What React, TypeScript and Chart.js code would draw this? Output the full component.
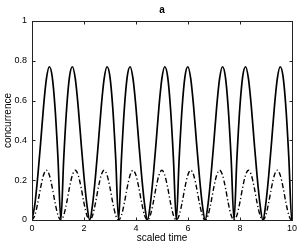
import React, { useEffect, useRef } from "react";
import { Chart, registerables } from "chart.js";

Chart.register(...registerables);

const FONT = "'Liberation Sans', Arial, Helvetica, sans-serif";

const chartTitle = "a";
const xTitle = "scaled time";
const yTitle = "concurrence";
const xTicks = [0, 2, 4, 6, 8, 10];
const yTicks = [0, 0.2, 0.4, 0.6, 0.8, 1];

// sample times (scaled time)
const times = [
  0, 0.111, 0.222, 0.333, 0.444, 0.555, 0.666, 0.777, 0.888, 0.999,
  1.11, 1.221, 1.332, 1.443, 1.554, 1.665, 1.776, 1.887, 1.998, 2.109,
  2.22, 2.331, 2.442, 2.553, 2.664, 2.775, 2.886, 2.997, 3.108, 3.219,
  3.33, 3.441, 3.552, 3.663, 3.774, 3.885, 3.996, 4.107, 4.218, 4.329,
  4.44, 4.551, 4.662, 4.773, 4.884, 4.995, 5.106, 5.217, 5.328, 5.439,
  5.55, 5.661, 5.772, 5.883, 5.994, 6.105, 6.216, 6.327, 6.438, 6.549,
  6.66, 6.771, 6.882, 6.993, 7.104, 7.215, 7.326, 7.437, 7.548, 7.659,
  7.77, 7.881, 7.992, 8.103, 8.214, 8.325, 8.436, 8.547, 8.658, 8.769,
  8.88, 8.991, 9.102, 9.213, 9.324, 9.435, 9.546, 9.657, 9.768, 9.879,
  9.99, 10,
];

// solid curve
const solidValues = [
  0, 0.08, 0.22, 0.39, 0.57, 0.71, 0.77, 0.72, 0.56, 0.31,
  0, 0.31, 0.56, 0.72, 0.77, 0.71, 0.57, 0.39, 0.22, 0.08,
  0, 0.08, 0.22, 0.39, 0.57, 0.71, 0.77, 0.72, 0.56, 0.31,
  0, 0.31, 0.56, 0.72, 0.77, 0.71, 0.57, 0.39, 0.22, 0.08,
  0, 0.08, 0.22, 0.39, 0.57, 0.71, 0.77, 0.72, 0.56, 0.31,
  0, 0.31, 0.56, 0.72, 0.77, 0.71, 0.57, 0.39, 0.22, 0.08,
  0, 0.08, 0.22, 0.39, 0.57, 0.71, 0.77, 0.72, 0.56, 0.31,
  0, 0.31, 0.56, 0.72, 0.77, 0.71, 0.57, 0.39, 0.22, 0.08,
  0, 0.08, 0.22, 0.39, 0.57, 0.71, 0.77, 0.72, 0.56, 0.31,
  0, 0.02,
];

// dash-dot curve
const dashValues = [
  0, 0.024, 0.086, 0.164, 0.226, 0.25, 0.226, 0.164, 0.086, 0.024,
  0, 0.024, 0.086, 0.164, 0.226, 0.25, 0.226, 0.164, 0.086, 0.024,
  0, 0.024, 0.086, 0.164, 0.226, 0.25, 0.226, 0.164, 0.086, 0.024,
  0, 0.024, 0.086, 0.164, 0.226, 0.25, 0.226, 0.164, 0.086, 0.024,
  0, 0.024, 0.086, 0.164, 0.226, 0.25, 0.226, 0.164, 0.086, 0.024,
  0, 0.024, 0.086, 0.164, 0.226, 0.25, 0.226, 0.164, 0.086, 0.024,
  0, 0.024, 0.086, 0.164, 0.226, 0.25, 0.226, 0.164, 0.086, 0.024,
  0, 0.024, 0.086, 0.164, 0.226, 0.25, 0.226, 0.164, 0.086, 0.024,
  0, 0.024, 0.086, 0.164, 0.226, 0.25, 0.226, 0.164, 0.086, 0.024,
  0, 0.002,
];

const boxPlugin = {
  id: "matlabBox",
  afterDatasetsDraw(chart: any) {
    const { ctx, chartArea, scales } = chart;
    const l = Math.round(chartArea.left) + 0.5;
    const r = Math.round(chartArea.right) + 0.5;
    const t = Math.round(chartArea.top) + 0.5;
    const b = Math.round(chartArea.bottom) + 0.5;
    ctx.save();
    ctx.strokeStyle = "#222";
    ctx.lineWidth = 1;
    ctx.strokeRect(l, t, r - l, b - t);
    const tl = 3;
    ctx.beginPath();
    xTicks.forEach((v) => {
      const x = Math.round(scales.x.getPixelForValue(v)) + 0.5;
      ctx.moveTo(x, b);
      ctx.lineTo(x, b - tl);
      ctx.moveTo(x, t);
      ctx.lineTo(x, t + tl);
    });
    yTicks.forEach((v) => {
      const y = Math.round(scales.y.getPixelForValue(v)) + 0.5;
      ctx.moveTo(l, y);
      ctx.lineTo(l + tl, y);
      ctx.moveTo(r, y);
      ctx.lineTo(r - tl, y);
    });
    ctx.stroke();
    // title
    ctx.fillStyle = "#000";
    ctx.font = `bold 10px ${FONT}`;
    ctx.textAlign = "center";
    ctx.textBaseline = "alphabetic";
    ctx.fillText(chartTitle, (chartArea.left + chartArea.right) / 2, 12.7);
    ctx.restore();
  },
};

export default function App() {
  const ref = useRef<HTMLCanvasElement | null>(null);
  useEffect(() => {
    if (!ref.current) return;
    Chart.defaults.font.family = FONT;
    const chart = new Chart(ref.current, {
      type: "line",
      data: {
        datasets: [
          {
            data: times.map((t, i) => ({ x: t, y: solidValues[i] })),
            borderColor: "#000",
            borderWidth: 1.7,
            pointRadius: 0,
            cubicInterpolationMode: "monotone",
            fill: false,
          },
          {
            data: times.map((t, i) => ({ x: t, y: dashValues[i] })),
            borderColor: "#000",
            borderWidth: 1.4,
            borderDash: [5, 2.5, 1.2, 2.5],
            pointRadius: 0,
            cubicInterpolationMode: "monotone",
            fill: false,
          },
        ],
      },
      options: {
        responsive: false,
        animation: false,
        layout: { padding: { top: 21, right: 8, left: 0, bottom: 0 } },
        plugins: { legend: { display: false }, tooltip: { enabled: false }, title: { display: false } },
        scales: {
          x: {
            type: "linear",
            min: 0,
            max: 10,
            afterBuildTicks: (s: any) => {
              s.ticks = xTicks.map((v) => ({ value: v }));
            },
            afterFit: (s: any) => {
              s.height = 25;
            },
            grid: { display: false, drawTicks: false },
            border: { display: false },
            ticks: {
              color: "#000",
              font: { size: 9 },
              padding: 3,
              maxRotation: 0,
              autoSkip: false,
              callback: (v: any) => String(v),
            },
            title: {
              display: true,
              text: xTitle,
              color: "#000",
              font: { size: 10 },
              padding: { top: 0, bottom: 1 },
            },
          },
          y: {
            type: "linear",
            min: 0,
            max: 1,
            afterBuildTicks: (s: any) => {
              s.ticks = yTicks.map((v) => ({ value: v }));
            },
            afterFit: (s: any) => {
              s.width = 32;
            },
            grid: { display: false, drawTicks: false },
            border: { display: false },
            ticks: {
              color: "#000",
              font: { size: 9 },
              padding: 5,
              autoSkip: false,
              callback: (v: any) => String(v),
            },
            title: {
              display: true,
              text: yTitle,
              color: "#000",
              font: { size: 10 },
              padding: { top: 2, bottom: 0 },
            },
          },
        },
      },
      plugins: [boxPlugin],
    } as any);
    return () => chart.destroy();
  }, []);
  return (
    <div style={{ position: "fixed", left: 0, top: 0, width: 300, height: 245, background: "#fff" }}>
      <canvas ref={ref} width={300} height={245} style={{ display: "block" }} />
    </div>
  );
}
